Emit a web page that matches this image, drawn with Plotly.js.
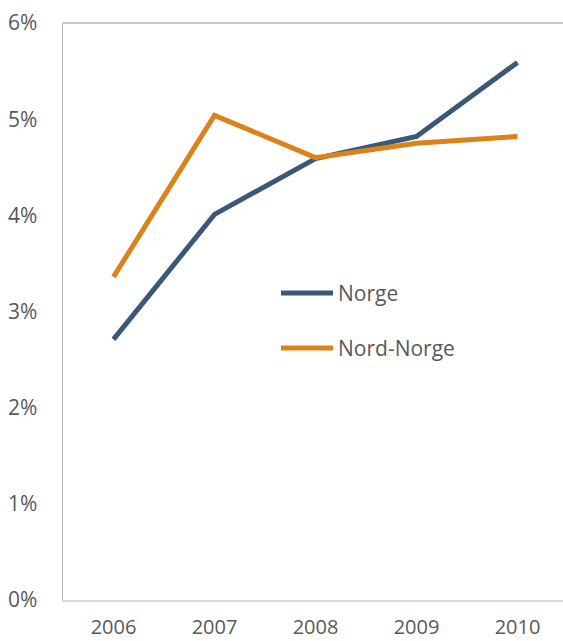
<!DOCTYPE html>
<html>
<head>
<meta charset="utf-8">
<script src="https://cdn.plot.ly/plotly-3.0.1.min.js"></script>
<style>
html,body{margin:0;padding:0;overflow:hidden;background:#fff;}
#chart{width:575px;height:641px;}
</style>
</head>
<body>
<div id="chart"></div>
<script>
const years = ['2006', '2007', '2008', '2009', '2010'];
const norge = [0.0271, 0.0401, 0.0459, 0.0482, 0.0559];
const nordNorge = [0.0336, 0.0504, 0.0460, 0.0475, 0.0482];
const seriesNames = ['Norge', 'Nord-Norge'];
const colors = ['#3b5877', '#db821b'];
const yTicks = [0, 0.01, 0.02, 0.03, 0.04, 0.05, 0.06];
const yTickLabels = ['0%', '1%', '2%', '3%', '4%', '5%', '6%'];

const font = {family: '"Open Sans", "Liberation Sans", sans-serif', size: 21, color: '#595959'};
const xFont = {family: '"Open Sans", "Liberation Sans", sans-serif', size: 20, color: '#595959'};

const traces = [norge, nordNorge].map((v, i) => ({
  x: years, y: v, type: 'scatter', mode: 'lines', name: seriesNames[i],
  line: {color: colors[i], width: 5}, showlegend: false, hoverinfo: 'skip'
}));

const legendY = [0.532, 0.4367];
const shapes = [
  {type: 'line', xref: 'paper', yref: 'paper', x0: 0, x1: 1, y0: 1, y1: 1,
   line: {color: '#b4b4b4', width: 1.5}}
];
const annotations = [];
seriesNames.forEach((n, i) => {
  shapes.push({type: 'line', xref: 'paper', yref: 'paper', x0: 0.4317, x1: 0.5347,
    y0: legendY[i], y1: legendY[i], line: {color: colors[i], width: 5}});
  annotations.push({xref: 'paper', yref: 'paper', x: 0.5406, y: legendY[i],
    xanchor: 'left', yanchor: 'middle', text: n, showarrow: false, font: font});
});

const layout = {
  width: 575, height: 641,
  margin: {l: 63, r: 7, t: 23, b: 41},
  paper_bgcolor: '#ffffff', plot_bgcolor: '#ffffff',
  font: font,
  xaxis: {
    type: 'category', range: [-0.5, 4.5], showgrid: false, zeroline: false,
    showline: true, linecolor: '#d9d9d9', linewidth: 2, ticks: '',
    ticklabelstandoff: 8, tickfont: xFont
  },
  yaxis: {
    range: [0, 0.06], tickvals: yTicks, ticktext: yTickLabels,
    showgrid: false, zeroline: false, showline: true, linecolor: '#b4b4b4', linewidth: 1.5,
    ticks: '', ticklabelstandoff: 20, tickfont: font
  },
  shapes: shapes,
  annotations: annotations,
  showlegend: false
};

Plotly.newPlot('chart', traces, layout, {displayModeBar: false, staticPlot: true});
</script>
</body>
</html>
